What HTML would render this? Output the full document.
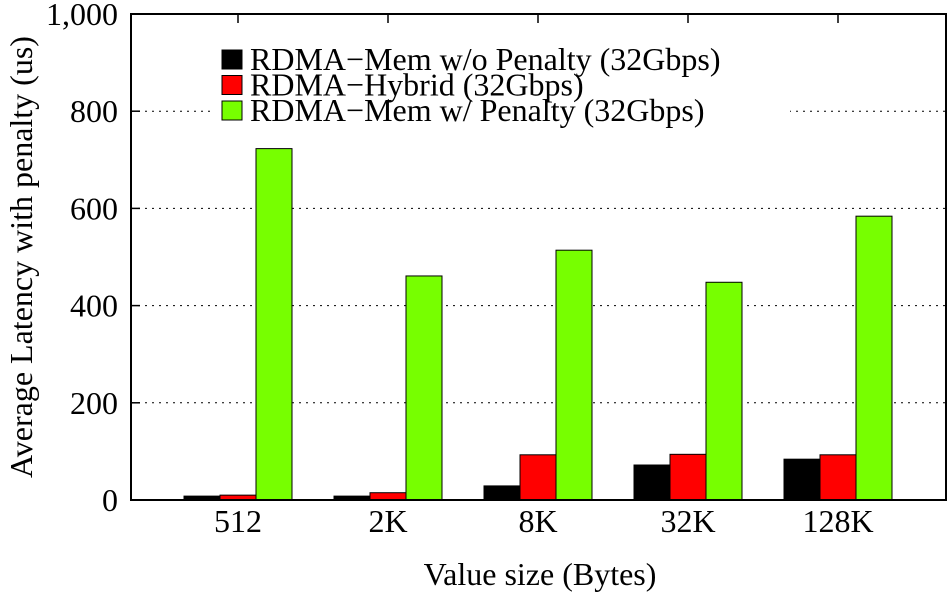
<!DOCTYPE html>
<html><head><meta charset="utf-8"><style>
html,body{margin:0;padding:0;background:#fff;}
svg, svg text{font-family:"Liberation Serif","DejaVu Serif",serif;}
</style></head><body>
<svg id="chart" width="950" height="595" viewBox="0 0 950 595" font-family="Liberation Serif, DejaVu Serif, serif">
<g id="grid"></g>
<rect x="212" y="40" width="578" height="86" fill="#fff"/>
<g id="bars"></g>
<g id="axes"></g>
<g id="legend"></g>
<text x="540" y="585" font-size="32" text-anchor="middle">Value size (Bytes)</text>
<text transform="translate(32,257) rotate(-90)" font-size="32" text-anchor="middle">Average Latency with penalty (us)</text>
</svg>
<script>
const categories = ["512","2K","8K","32K","128K"];
const memNoPenalty = [8, 8, 29, 72, 84];
const hybrid = [10, 15, 93, 94, 93];
const memPenalty = [723, 461, 514, 448, 584];
const seriesNames = ["RDMA\u2212Mem w/o Penalty (32Gbps)","RDMA\u2212Hybrid (32Gbps)","RDMA\u2212Mem w/ Penalty (32Gbps)"];
const seriesColors = ["#000000","#ff0000","#77ff00"];
const yTicks = [0,200,400,600,800,1000];
const yTickLabels = ["0","200","400","600","800","1,000"];

const NS="http://www.w3.org/2000/svg";
const L=131,R=946,T=14,B=500,yMax=1000;
const y=v=>B-(v/yMax)*(B-T);
const x=i=>238+i*150;
const bw=36;
function mk(tag,attrs,parent){const e=document.createElementNS(NS,tag);for(const k in attrs)e.setAttribute(k,attrs[k]);parent.appendChild(e);return e;}
const grid=document.getElementById('grid'),bars=document.getElementById('bars'),axes=document.getElementById('axes'),legend=document.getElementById('legend');
yTicks.forEach((t,i)=>{
  if(t>0&&t<yMax){const g=mk('line',{x1:L,x2:R,y1:y(t),y2:y(t),stroke:'#000','stroke-width':1,'stroke-dasharray':'2,5'},grid);
  
  }
  const tk=mk('line',{x1:L,x2:L+9,y1:y(t),y2:y(t),stroke:'#000','stroke-width':1.5},axes);
  
  
  const lb=mk('text',{x:L-13,y:y(t)+11,'font-size':32,'text-anchor':'end'},axes);
  lb.textContent=yTickLabels[i];
  
  
});
const series=[memNoPenalty,hybrid,memPenalty];
categories.forEach((c,i)=>{
  series.forEach((s,j)=>{
    const bx=x(i)+(j-1.5)*bw;
    const r=mk('rect',{x:bx,y:y(s[i]),width:bw,height:B-y(s[i]),fill:seriesColors[j],stroke:'#000','stroke-width':1},bars);
    
    
  });
  const tk=mk('line',{x1:x(i),x2:x(i),y1:T,y2:T+9,stroke:'#000','stroke-width':1.5},axes);
  
  
  const lb=mk('text',{x:x(i),y:B+32,'font-size':32,'text-anchor':'middle'},axes);
  lb.textContent=c;
  
  
});
const frame=mk('rect',{x:L,y:T,width:R-L,height:B-T,fill:'none',stroke:'#000','stroke-width':2},axes);


seriesNames.forEach((n,j)=>{
  const yy=50+j*25.5;
  const sq=mk('rect',{x:222,y:yy,width:20,height:19,fill:seriesColors[j],stroke:'#000','stroke-width':1},legend);
  
  
  const t=mk('text',{x:250,y:yy+20,'font-size':32},legend);
  t.textContent=n;
  
  
});
</script>
</body></html>
